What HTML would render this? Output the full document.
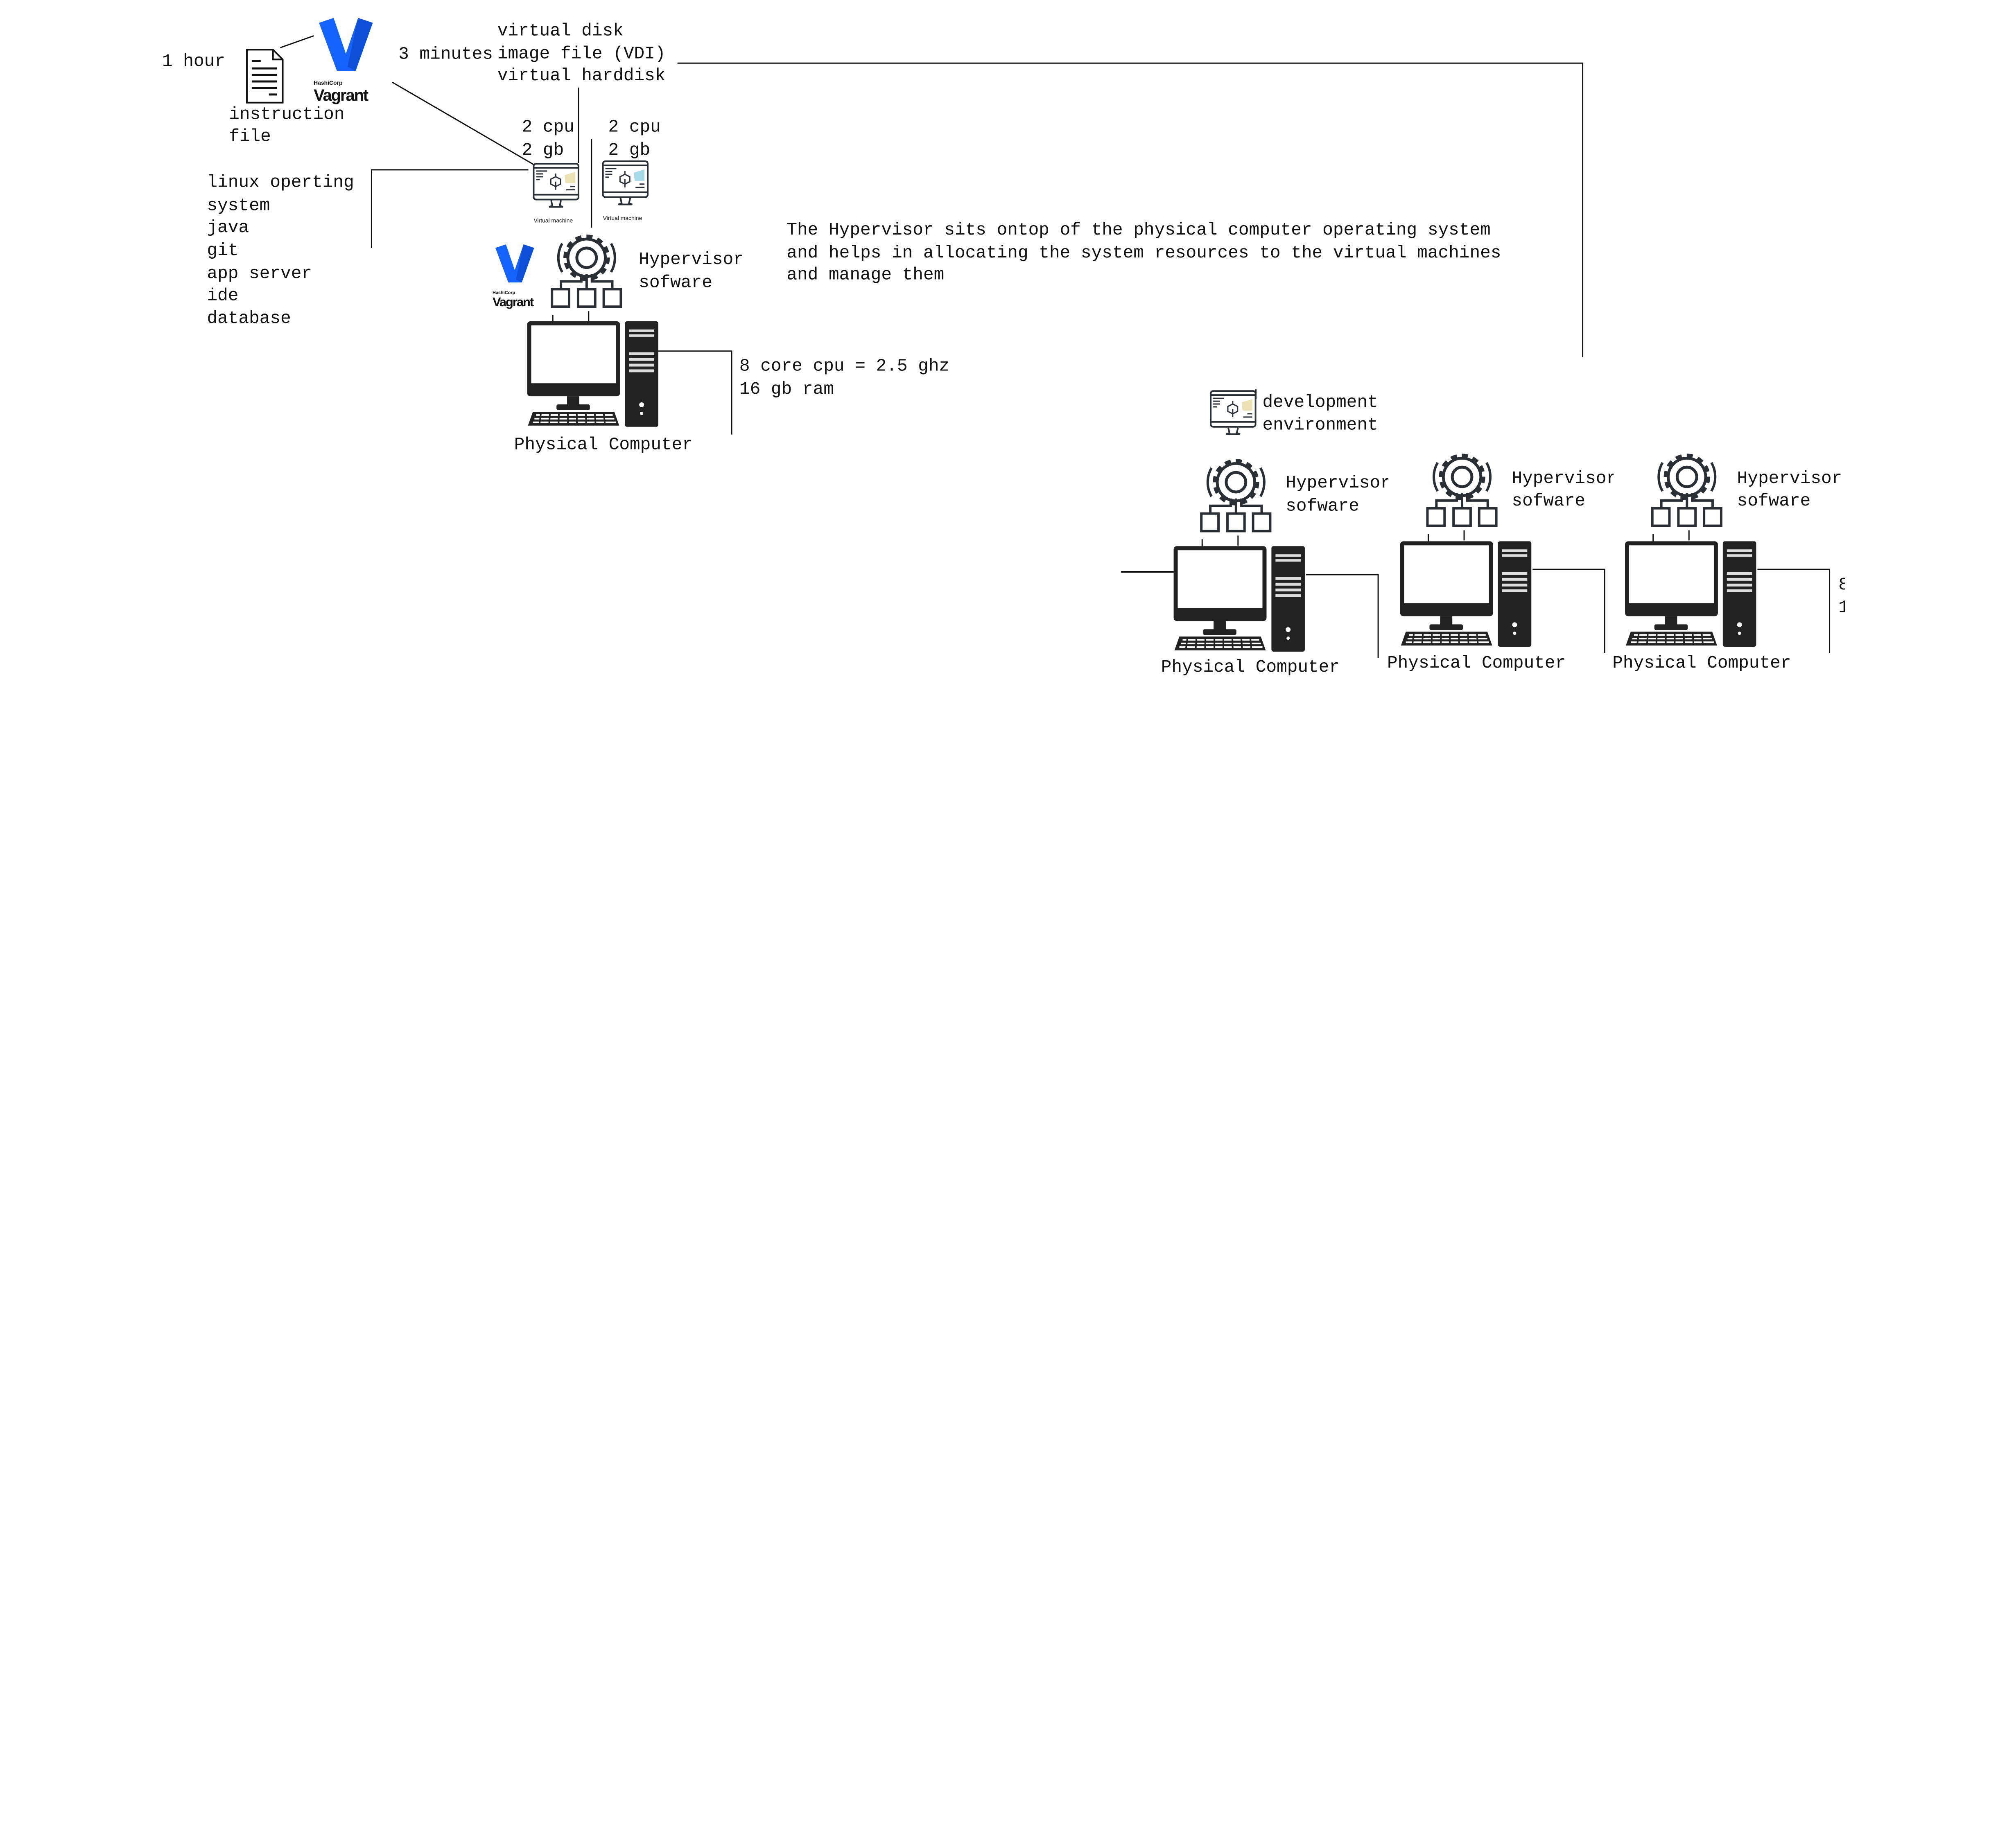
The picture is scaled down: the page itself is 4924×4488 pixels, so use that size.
<!DOCTYPE html>
<html><head><meta charset="utf-8">
<style>
html,body{margin:0;padding:0;background:#fff;}
svg{display:block;}
text{font-family:"Liberation Mono","DejaVu Sans Mono",monospace;font-size:43px;fill:#111;}
</style></head>
<body>
<svg width="4924" height="4488" viewBox="0 0 4924 4488" xmlns="http://www.w3.org/2000/svg">
<defs>
  <g id="comp">
    <rect x="0" y="0" width="228" height="184" rx="8" fill="#222"/>
    <rect x="10" y="10" width="208" height="142" fill="#fff"/>
    <rect x="98" y="184" width="30" height="22" fill="#222"/>
    <rect x="72" y="204" width="82" height="14" rx="4" fill="#222"/>
    <path d="M14 222 L214 222 L226 256 L2 256 Z" fill="#222"/>
    <g fill="#fff">
      <rect x="22" y="228" width="188" height="4"/>
      <rect x="18" y="237" width="196" height="4"/>
      <rect x="14" y="246" width="204" height="4"/>
    </g>
    <g stroke="#222" stroke-width="4">
      <line x1="34" y1="224" x2="30" y2="254"/><line x1="56" y1="224" x2="54" y2="254"/>
      <line x1="78" y1="224" x2="77" y2="254"/><line x1="100" y1="224" x2="100" y2="254"/>
      <line x1="122" y1="224" x2="122" y2="254"/><line x1="144" y1="224" x2="145" y2="254"/>
      <line x1="166" y1="224" x2="168" y2="254"/><line x1="188" y1="224" x2="191" y2="254"/>
    </g>
    <rect x="240" y="0" width="82" height="259" rx="5" fill="#222"/>
    <g fill="#ddd">
      <rect x="250" y="20" width="62" height="6"/><rect x="250" y="32" width="62" height="6"/>
      <rect x="250" y="76" width="62" height="7"/><rect x="250" y="90" width="62" height="7"/>
      <rect x="250" y="104" width="62" height="7"/><rect x="250" y="118" width="62" height="7"/>
    </g>
    <circle cx="281" cy="205" r="6" fill="#fff"/><circle cx="281" cy="226" r="4" fill="#fff"/>
  </g>
  <g id="gear">
    <circle cx="88" cy="60" r="46" fill="none" stroke="#2a2f35" stroke-width="22" stroke-dasharray="13 11"/>
    <circle cx="88" cy="60" r="46" fill="#fff" stroke="none"/>
    <circle cx="88" cy="60" r="46" fill="none" stroke="#2a2f35" stroke-width="7"/>
    <circle cx="88" cy="60" r="24" fill="none" stroke="#2a2f35" stroke-width="7"/>
    <path d="M28 25 A70 70 0 0 0 28 95" fill="none" stroke="#2a2f35" stroke-width="6"/>
    <path d="M148 25 A70 70 0 0 1 148 95" fill="none" stroke="#2a2f35" stroke-width="6"/>
    <g fill="none" stroke="#2a2f35" stroke-width="6">
      <line x1="88" y1="100" x2="88" y2="137"/>
      <path d="M75 100 L75 118 L25 118 L25 137"/>
      <path d="M101 100 L101 118 L151 118 L151 137"/>
      <rect x="3" y="137" width="42" height="43"/>
      <rect x="67" y="137" width="42" height="43"/>
      <rect x="130" y="137" width="42" height="43"/>
    </g>
    <line x1="5" y1="200" x2="5" y2="225" stroke="#111" stroke-width="3"/>
    <line x1="93" y1="191" x2="93" y2="216" stroke="#111" stroke-width="3"/>
  </g>
  <g id="vm">
    <rect x="2" y="2" width="110" height="88" rx="6" fill="#fff" stroke="#2a2f35" stroke-width="4"/>
    <line x1="2" y1="12" x2="112" y2="12" stroke="#2a2f35" stroke-width="4"/>
    <line x1="2" y1="78" x2="112" y2="78" stroke="#2a2f35" stroke-width="4"/>
    <g stroke="#2a2f35" stroke-width="3">
      <line x1="8" y1="20" x2="35" y2="20"/><line x1="8" y1="27" x2="25" y2="27"/><line x1="8" y1="34" x2="25" y2="34"/><line x1="8" y1="41" x2="17" y2="41"/>
      <path d="M44 40 L56 34 L68 40 L68 52 L56 58 L44 52 Z" fill="none"/>
      <line x1="56" y1="46" x2="56" y2="66"/><line x1="56" y1="26" x2="56" y2="34"/>
      <line x1="82" y1="66" x2="104" y2="66"/><line x1="92" y1="58" x2="104" y2="58"/>
    </g>
    <path d="M78 30 L104 22 L104 50 L80 50 Z" class="blob"/>
    <path d="M45 92 L48 105 L40 108 L74 108 L66 105 L69 92" fill="none" stroke="#2a2f35" stroke-width="4"/>
  </g>
  <g id="vag">
    <path d="M0 12 L36 0 L66 88 L96 0 L132 12 L90 130 L44 130 Z" fill="#1563ff"/>
    <path d="M96 0 L132 12 L90 130 L70 120 Z" fill="#0d4fd6"/>
  </g>
  <clipPath id="c1"><rect x="0" y="0" width="3408" height="4488"/></clipPath>
  <clipPath id="c2"><rect x="0" y="0" width="3961" height="4488"/></clipPath>
  <clipPath id="c3"><rect x="0" y="0" width="4529" height="4488"/></clipPath>
</defs>
<g transform="scale(0.995)">
<g stroke="#111" stroke-width="3" fill="none">
  <line x1="688" y1="117" x2="770" y2="88"/>
  <path d="M1663 155 L3885 155 L3885 877"/>
  <line x1="963" y1="202" x2="1310" y2="404"/>
  <line x1="1420" y1="215" x2="1420" y2="400"/>
  <line x1="1452" y1="341" x2="1452" y2="559"/>
  <path d="M1297 417 L912 417 L912 609"/>
  <path d="M1616 862 L1796 862 L1796 1067"/>
  <line x1="3083" y1="956" x2="3083" y2="980"/>
  <line x1="2752" y1="1404" x2="2891" y2="1404" stroke-width="4"/>
  <path d="M3206 1411 L3383 1411 L3383 1616"/>
  <path d="M3762 1398 L3939 1398 L3939 1603"/>
  <path d="M4314 1398 L4491 1398 L4491 1603"/>
</g>
<g fill="none" stroke="#111" stroke-width="4">
  <path d="M606 122 L670 122 L694 146 L694 252 L606 252 Z"/>
  <path d="M670 122 L670 146 L694 146"/>
</g>
<g stroke="#111" stroke-width="5">
  <line x1="618" y1="150" x2="640" y2="150"/><line x1="618" y1="168" x2="680" y2="168"/>
  <line x1="618" y1="184" x2="680" y2="184"/><line x1="618" y1="200" x2="680" y2="200"/>
  <line x1="618" y1="216" x2="680" y2="216"/><line x1="660" y1="232" x2="680" y2="232"/>
</g>
<use href="#vag" x="783" y="44"/>
<text x="770" y="208" style="font-family:'Liberation Sans',sans-serif;font-size:14px;font-weight:bold">HashiCorp</text>
<text x="770" y="247" style="font-family:'Liberation Sans',sans-serif;font-size:40px;font-weight:bold;letter-spacing:-2px">Vagrant</text>
<g transform="translate(1216,600) scale(0.72)"><use href="#vag"/></g>
<text x="1209" y="722" style="font-family:'Liberation Sans',sans-serif;font-size:11px;font-weight:bold">HashiCorp</text>
<text x="1209" y="752" style="font-family:'Liberation Sans',sans-serif;font-size:31px;font-weight:bold;letter-spacing:-2px">Vagrant</text>
<style>.blob{fill:#ece2b4}</style>
<use href="#vm" x="1308" y="400"/>
<text x="1310" y="546" style="font-family:'Liberation Sans',sans-serif;font-size:14px">Virtual machine</text>
<use href="#vm" x="1478" y="394"/>
<path d="M1556 424 L1582 416 L1582 444 L1558 444 Z" fill="#a4dbe8"/>
<text x="1480" y="540" style="font-family:'Liberation Sans',sans-serif;font-size:14px">Virtual machine</text>
<use href="#vm" x="2970" y="958"/>
<use href="#gear" x="1352" y="573"/>
<use href="#comp" x="1294" y="789"/>
<use href="#gear" x="2946" y="1124"/>
<use href="#comp" x="2881" y="1341"/>
<use href="#gear" x="3501" y="1111"/>
<use href="#comp" x="3437" y="1329"/>
<use href="#gear" x="4053" y="1111"/>
<use href="#comp" x="3989" y="1329"/>
<text x="398" y="162">1 hour</text>
<text x="562" y="292">instruction</text>
<text x="562" y="346">file</text>
<text x="978" y="144">3 minutes</text>
<text x="1221" y="87">virtual disk</text>
<text x="1221" y="143">image file (VDI)</text>
<text x="1221" y="197">virtual harddisk</text>
<text x="1281" y="323">2 cpu</text>
<text x="1281" y="380">2 gb</text>
<text x="1493" y="323">2 cpu</text>
<text x="1493" y="380">2 gb</text>
<text x="508" y="459">linux operting</text>
<text x="508" y="516">system</text>
<text x="508" y="570">java</text>
<text x="508" y="626">git</text>
<text x="508" y="683">app server</text>
<text x="508" y="737">ide</text>
<text x="508" y="793">database</text>
<text x="1568" y="648">Hypervisor</text>
<text x="1568" y="705">sofware</text>
<text x="1262" y="1103">Physical Computer</text>
<text x="1815" y="910">8 core cpu = 2.5 ghz</text>
<text x="1815" y="967">16 gb ram</text>
<text x="1931" y="576">The Hypervisor sits ontop of the physical computer operating system</text>
<text x="1931" y="632">and helps in allocating the system resources to the virtual machines</text>
<text x="1931" y="686">and manage them</text>
<text x="3099" y="999">development</text>
<text x="3099" y="1055">environment</text>
<g clip-path="url(#c1)"><text x="3156" y="1197">Hypervisor</text><text x="3156" y="1254">sofware</text></g>
<g clip-path="url(#c2)"><text x="3711" y="1186">Hypervisor</text><text x="3711" y="1241">sofware</text></g>
<g clip-path="url(#c3)"><text x="4264" y="1186">Hypervisor</text><text x="4264" y="1241">sofware</text>
<text x="4513" y="1447">8</text><text x="4513" y="1503">1</text></g>
<text x="2850" y="1649">Physical Computer</text>
<text x="3405" y="1639">Physical Computer</text>
<text x="3958" y="1639">Physical Computer</text>
</g>
</svg>
</body></html>
